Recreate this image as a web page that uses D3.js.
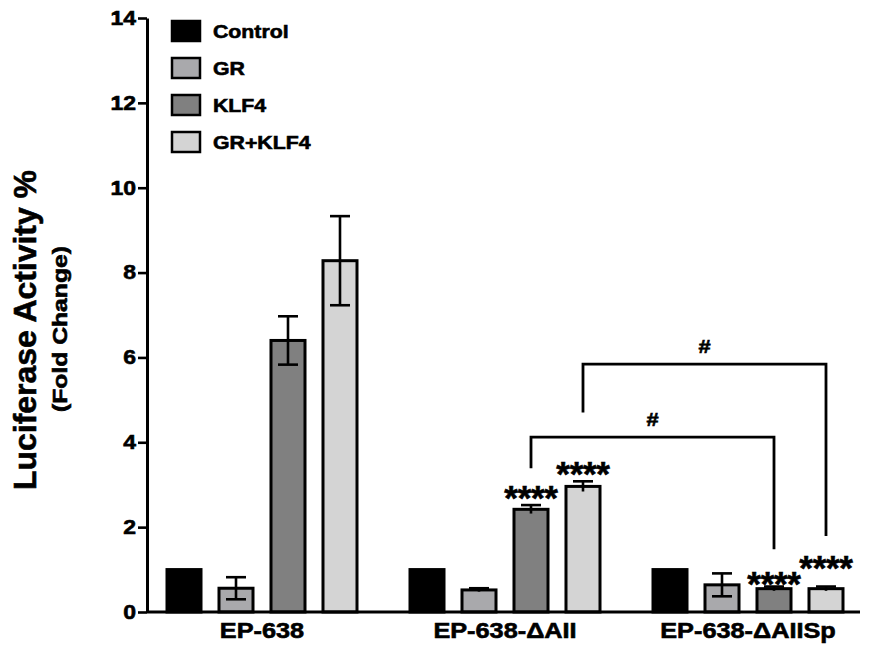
<!DOCTYPE html>
<html>
<head>
<meta charset="utf-8">
<script src="https://cdn.jsdelivr.net/npm/d3@7"></script>
<style>
  body { margin: 0; background: #fff; }
  text { font-family: "Liberation Sans", Arial, sans-serif; font-weight: bold; fill: #000; stroke: #000; stroke-width: 0.6px; }
</style>
</head>
<body>
<svg id="chart" width="871" height="654"></svg>
<script>
// data
const groups = ['EP-638', 'EP-638-ΔAII', 'EP-638-ΔAIISp'];
const seriesNames = ['Control', 'GR', 'KLF4', 'GR+KLF4'];
const seriesColors = ['#000000', '#a9a9ac', '#808080', '#d4d4d4'];

const controlMean = [1, 1, 1];
const controlErr = [0, 0, 0];
const grMean = [0.56, 0.52, 0.64];
const grErr = [0.26, 0.04, 0.27];
const klf4Mean = [6.40, 2.42, 0.55];
const klf4Err = [0.57, 0.10, 0.05];
const grKlf4Mean = [8.28, 2.96, 0.55];
const grKlf4Err = [1.05, 0.12, 0.05];

const yTicks = [0, 2, 4, 6, 8, 10, 12, 14];

// significance marks: group index, series index, level (fold change)
const starMarks = [
  { group: 1, series: 2, level: 2.87, label: '****' },
  { group: 1, series: 3, level: 3.44, label: '****' },
  { group: 2, series: 2, level: 0.85, label: '****' },
  { group: 2, series: 3, level: 1.22, label: '****' }
];
const brackets = [
  { from: [1, 2], to: [2, 2], level: 4.12, leftEnd: 3.39, rightEnd: 1.48, label: '#' },
  { from: [1, 3], to: [2, 3], level: 5.84, leftEnd: 4.70, rightEnd: 1.79, label: '#' }
];

const means = [controlMean, grMean, klf4Mean, grKlf4Mean];
const errs = [controlErr, grErr, klf4Err, grKlf4Err];

// flat table for the bars
let table = [];
groups.forEach(function (g, gi) {
  seriesNames.forEach(function (s, si) {
    table.push({ group: g, gi: gi, series: s, si: si, value: means[si][gi], err: errs[si][gi] });
  });
});

const sx = 1.15; // the figure's text is a little wider than the font
let svg = d3.select('#chart');

let y = d3.scaleLinear().domain([0, 14]).range([612, 18]);
let x0 = d3.scaleBand().domain(groups).range([140.5, 869.5]).padding(0);
let x1 = d3.scaleBand().domain(seriesNames).range([-95, 95]).paddingInner(0.346).paddingOuter(0);
let color = d3.scaleOrdinal().domain(seriesNames).range(seriesColors);

function barCenter(gi, si) {
  return x0(groups[gi]) + x0.bandwidth() / 2 + x1(seriesNames[si]) + x1.bandwidth() / 2;
}

// wide text helper
function wideText(parent, xx, yy, str, size, anchor) {
  return parent.append('text')
    .attr('transform', 'translate(' + xx + ',' + yy + ') scale(' + sx + ',1)')
    .attr('text-anchor', anchor || 'middle')
    .style('font-size', size + 'px')
    .text(str);
}

// bars
svg.append('g').selectAll('rect')
  .data(table)
  .enter()
  .append('rect')
  .attr('x', function (d) { return barCenter(d.gi, d.si) - x1.bandwidth() / 2; })
  .attr('y', function (d) { return y(d.value); })
  .attr('width', x1.bandwidth())
  .attr('height', function (d) { return y(0) - y(d.value); })
  .attr('fill', function (d) { return color(d.series); })
  .attr('stroke', '#000')
  .attr('stroke-width', 3);

// error bars
let eb = svg.append('g')
  .attr('stroke', '#000')
  .attr('stroke-width', 2.6)
  .selectAll('g')
  .data(table.filter(function (d) { return d.err > 0; }))
  .enter()
  .append('g');
let capHalf = 10;
eb.append('line')
  .attr('x1', function (d) { return barCenter(d.gi, d.si); })
  .attr('x2', function (d) { return barCenter(d.gi, d.si); })
  .attr('y1', function (d) { return y(d.value + d.err); })
  .attr('y2', function (d) { return y(Math.max(0, d.value - d.err)); });
eb.append('line')
  .attr('x1', function (d) { return barCenter(d.gi, d.si) - capHalf; })
  .attr('x2', function (d) { return barCenter(d.gi, d.si) + capHalf; })
  .attr('y1', function (d) { return y(d.value + d.err); })
  .attr('y2', function (d) { return y(d.value + d.err); });
eb.filter(function (d) { return d.err > 0.15; })
  .append('line')
  .attr('x1', function (d) { return barCenter(d.gi, d.si) - capHalf; })
  .attr('x2', function (d) { return barCenter(d.gi, d.si) + capHalf; })
  .attr('y1', function (d) { return y(d.value - d.err); })
  .attr('y2', function (d) { return y(d.value - d.err); });

// y axis
let yAxis = svg.append('g')
  .attr('transform', 'translate(147,0)')
  .call(d3.axisLeft(y).tickValues(yTicks).tickSize(9).tickSizeOuter(0).tickPadding(2));
yAxis.select('.domain').attr('stroke-width', 3);
yAxis.selectAll('.tick line').attr('stroke-width', 2.6);
yAxis.selectAll('.tick text')
  .attr('x', null)
  .attr('transform', 'translate(-11,0) scale(' + sx + ',1)')
  .style('font-size', '20px')
  .style('font-family', '"Liberation Sans", Arial, sans-serif');

// x axis
let xAxis = svg.append('g')
  .attr('transform', 'translate(0,' + y(0) + ')')
  .call(d3.axisBottom(x0).tickSize(0).tickPadding(10.5));
xAxis.select('.domain').remove();
xAxis.selectAll('.tick text')
  .attr('transform', 'scale(' + sx + ',1)')
  .style('font-size', '22px')
  .style('font-family', '"Liberation Sans", Arial, sans-serif');
svg.append('line')
  .attr('x1', 147).attr('x2', 860)
  .attr('y1', y(0)).attr('y2', y(0))
  .attr('stroke', '#000').attr('stroke-width', 3);

// y axis title
svg.append('text')
  .attr('transform', 'translate(36,330) rotate(-90)')
  .attr('text-anchor', 'middle')
  .attr('textLength', 320)
  .attr('lengthAdjust', 'spacingAndGlyphs')
  .style('font-size', '31px')
  .text('Luciferase Activity %');
svg.append('text')
  .attr('transform', 'translate(67,329) rotate(-90)')
  .attr('text-anchor', 'middle')
  .attr('textLength', 166)
  .attr('lengthAdjust', 'spacingAndGlyphs')
  .style('font-size', '20px')
  .text('(Fold Change)');

// stars
starMarks.forEach(function (m) {
  svg.append('text')
    .attr('x', barCenter(m.group, m.series))
    .attr('y', y(m.level) + 20)
    .attr('text-anchor', 'middle')
    .style('font-size', '35px')
    .style('letter-spacing', '-0.3px')
    .text(m.label);
});

// brackets
brackets.forEach(function (b) {
  let xa = barCenter(b.from[0], b.from[1]);
  let xb = barCenter(b.to[0], b.to[1]);
  let path = d3.path();
  path.moveTo(xa, y(b.leftEnd));
  path.lineTo(xa, y(b.level));
  path.lineTo(xb, y(b.level));
  path.lineTo(xb, y(b.rightEnd));
  svg.append('path')
    .attr('d', path.toString())
    .attr('fill', 'none')
    .attr('stroke', '#000')
    .attr('stroke-width', 2.8);
  wideText(svg, (xa + xb) / 2, y(b.level) - 11, b.label, 19);
});

// legend
let legend = svg.append('g').selectAll('g')
  .data(seriesNames)
  .enter()
  .append('g')
  .attr('transform', function (d, i) { return 'translate(172,' + (21 + i * 37) + ')'; });
legend.append('rect')
  .attr('width', 28)
  .attr('height', 20)
  .attr('fill', function (d) { return color(d); })
  .attr('stroke', '#000')
  .attr('stroke-width', 2.5);
legend.each(function (d) {
  wideText(d3.select(this), 41, 17, d, 18.5, 'start');
});
</script>
</body>
</html>
